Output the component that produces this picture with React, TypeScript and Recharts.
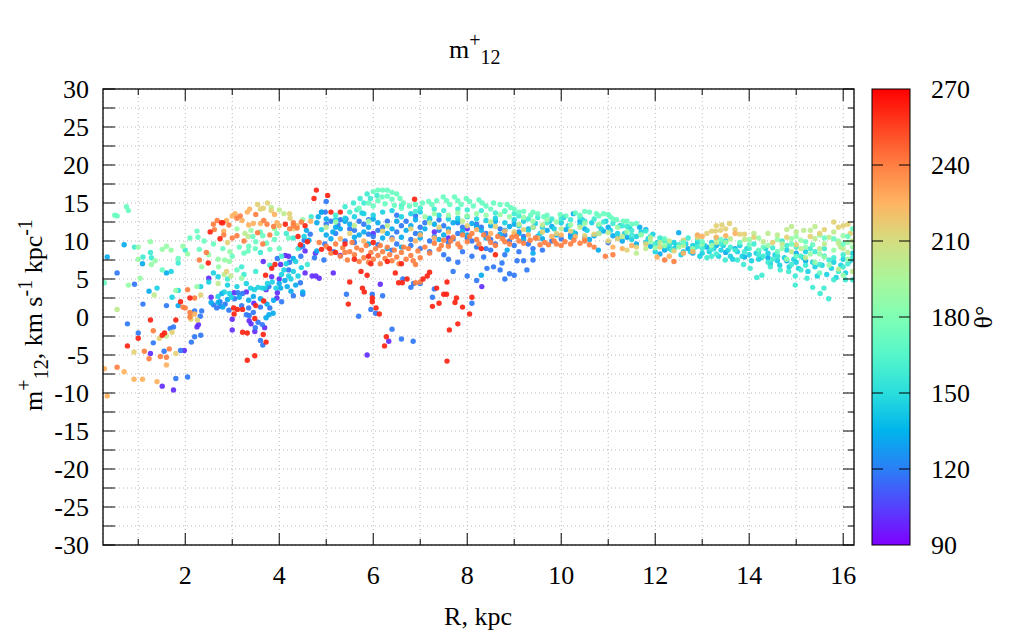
import React from 'react'
import { ScatterChart, Scatter, XAxis, YAxis, CartesianGrid } from 'recharts'

// gnuplot "rainbow" palette (rgbformulae 33,13,10), theta 90..270
const rainbow = (theta: number) => {
  const t = Math.min(1, Math.max(0, (theta - 90) / 180))
  const r = Math.min(1, Math.abs(2 * t - 0.5))
  const g = Math.sin(Math.PI * t)
  const b = Math.cos((Math.PI * t) / 2)
  const h = (v: number) => Math.round(Math.max(0, Math.min(1, v)) * 255).toString(16).padStart(2, '0')
  return '#' + h(r) + h(g) + h(b)
}

const xTicks = [1, 2, 3, 4, 5, 6, 7, 8, 9, 10, 11, 12, 13, 14, 15, 16]
const yTicks = [-30, -27.5, -25, -22.5, -20, -17.5, -15, -12.5, -10, -7.5, -5, -2.5, 0, 2.5, 5, 7.5, 10, 12.5, 15, 17.5, 20, 22.5, 25, 27.5, 30]
const cbTicks = [90, 120, 150, 180, 210, 240, 270]

// [R kpc, m+12] points grouped by theta colour band
const red: [number, number][] = [
  [0.77, -3.8], [1.0, -2.8], [1.26, -0.4], [1.51, -2.4], [1.56, -2.1], [1.8, -0.4], [1.9, 2.0], [2.1, 2.5], [2.49, 7.1], [2.53, 11.2],
  [2.74, 10.3], [2.77, 12.4], [2.8, 12.4], [3.03, 1.2], [3.11, 1.0], [3.22, 1.0], [3.5, 1.5], [3.67, 2.1], [3.04, 0.4], [3.48, -0.2],
  [3.22, -2.0], [3.32, -2.1], [3.66, -2.3], [3.32, -5.7], [3.48, -5.1], [3.72, -3.3], [3.84, 6.4], [3.91, 6.9], [3.71, 5.5], [4.13, 12.2],
  [4.55, 12.0], [4.45, 9.5], [4.6, 9.9], [4.79, 16.7], [4.74, 15.6], [5.03, 16.0], [5.1, 13.8], [5.3, 13.8], [5.07, 9.0], [6.88, 15.5],
  [5.5, 4.6], [5.77, 3.8], [5.81, 3.3], [5.47, 1.7], [5.98, 2.5], [5.98, 2.0], [6.06, 1.2], [6.13, 0.4], [6.28, -2.6], [6.24, -3.8],
  [7.57, -5.8], [7.62, -1.7], [7.8, -0.9], [7.9, 1.3], [8.05, 0.4], [8.1, 2.6], [7.26, 1.4], [7.4, 1.8], [7.5, 3.0], [7.56, 3.0],
  [7.77, 2.5], [7.74, 1.9], [7.35, 3.8], [7.15, 5.4], [7.06, 5.0], [7.2, 5.9], [6.54, 4.5], [6.62, 4.5], [6.72, 5.0], [7.57, 4.6],
  [6.47, 5.8], [5.87, 5.5], [5.74, 6.0], [5.2, 8.5], [5.6, 7.6], [5.9, 8.0], [6.3, 7.3], [6.6, 7.0], [5.4, 9.6], [6.0, 9.8],
  [8.3, 9.0], [8.6, 8.2], [5.95, 7.0], [4.4, 10.6], [4.9, 8.9],
]
const orange: [number, number][] = [
  [0.55, -6.6], [1.13, -4.5], [1.32, -1.8], [1.23, -5.5], [1.47, -5.2], [1.66, -4.2], [1.6, -5.3], [1.95, 1.3], [2.0, 1.2], [2.1, 0.6],
  [2.1, 0.0], [2.2, 2.5], [2.3, 7.5], [2.05, 3.6], [2.45, 8.5], [2.6, 12.2], [2.68, 12.7], [2.93, 12.1], [3.1, 13.0], [3.17, 13.3],
  [3.5, 13.5], [3.67, 12.7], [3.74, 12.2], [3.88, 11.9], [4.22, 11.6], [4.3, 12.0], [4.47, 12.5], [2.82, 10.8], [3.1, 10.7], [3.0, 10.4],
  [3.25, 10.0], [3.54, 11.1], [3.8, 10.8], [3.65, 9.6], [2.62, 11.5], [4.3, 12.4], [4.38, 11.7],
  [4.85, 9.8], [5.0, 9.3], [5.1, 8.4], [5.2, 9.6], [5.3, 8.0], [5.35, 9.1], [5.45, 7.5], [5.5, 8.6], [5.55, 9.8], [5.6, 8.2],
  [5.7, 7.3], [5.75, 8.8], [5.8, 7.8], [5.85, 9.4], [5.9, 7.2], [5.95, 8.5], [6.0, 7.6], [6.05, 9.0], [6.1, 8.1], [6.15, 7.0],
  [6.2, 8.6], [6.25, 7.7], [6.3, 9.2], [6.35, 8.2], [6.4, 7.4], [6.45, 8.8], [6.5, 7.9], [6.55, 7.0], [6.6, 8.5], [6.7, 7.6],
  [6.75, 9.0], [6.8, 8.1], [6.9, 6.9], [6.95, 8.7], [7.0, 7.8], [7.1, 9.2], [7.2, 8.4], [7.3, 9.7], [7.4, 8.9], [7.5, 10.1],
  [7.6, 9.3], [7.7, 10.5], [7.8, 9.6], [7.9, 10.8], [8.0, 9.9], [8.1, 11.0], [8.2, 10.2], [8.35, 10.8], [8.5, 9.8], [8.65, 10.6],
  [8.8, 9.9], [8.95, 10.5], [9.1, 10.0], [9.34, 10.1], [9.55, 9.5], [9.73, 9.5], [9.9, 9.6], [10.08, 9.9], [10.27, 10.1], [10.4, 9.7],
  [10.6, 9.5], [10.94, 8.0], [11.1, 8.2], [12.2, 7.5], [12.4, 7.3], [6.9, 4.5], [7.0, 4.6],
  [7.45, 9.4], [7.65, 10.0], [7.85, 9.2], [8.05, 10.6], [8.25, 9.6], [8.45, 10.4], [8.6, 9.4], [8.75, 10.3], [8.9, 9.6], [9.05, 10.6],
  [9.2, 9.7], [9.45, 10.4], [9.65, 9.8], [9.85, 10.0], [10.0, 9.4], [10.2, 9.6], [10.5, 10.0], [10.7, 9.2], [5.65, 9.1], [6.15, 9.4],
  [6.65, 9.2], [5.4, 8.5], [6.85, 7.4],
]
const lightOrange: [number, number][] = [
  [0.7, -7.2], [0.91, -8.2], [1.09, -8.2], [0.34, -10.4], [1.4, -8.5], [1.6, -6.3], [2.2, 0.4], [0.28, -6.8],
  [2.88, 12.7], [3.0, 13.3], [3.06, 13.6], [3.21, 12.7], [3.32, 13.8], [3.37, 14.2], [3.9, 13.5], [3.35, 12.1], [3.45, 12.3], [3.95, 12.4],
  [4.0, 12.0], [4.38, 12.0], [4.67, 12.6], [2.82, 11.3], [3.6, 12.3],
  [5.3, 10.3], [5.8, 10.0], [6.4, 10.2], [7.0, 10.8], [7.6, 11.2], [8.2, 11.5], [8.8, 11.3], [9.3, 10.8], [9.8, 10.6], [10.3, 10.6],
  [11.1, 9.2], [11.5, 9.4], [12.04, 7.9], [12.3, 8.0], [12.6, 8.4], [13.0, 10.6], [13.3, 10.5],
  [8.5, 11.0], [9.0, 10.9], [9.5, 10.4], [10.0, 10.8], [10.5, 10.2], [11.3, 9.0], [12.8, 8.6], [12.9, 10.8], [13.5, 10.7], [13.7, 11.0],
  [6.9, 10.0], [7.3, 10.4],
]
const yellow: [number, number][] = [
  [0.91, -4.6], [1.45, -2.8], [1.72, -2.0], [1.8, -4.8], [2.12, -0.3], [2.26, -0.4], [2.33, 2.9], [2.88, 6.0], [2.9, 9.8], [3.54, 14.8],
  [3.6, 14.2], [3.66, 14.3], [3.75, 15.0], [3.83, 14.0], [4.22, 13.6], [4.23, 13.0], [4.3, 11.6],
  [5.5, 11.0], [6.2, 11.3], [6.8, 11.6], [7.4, 11.8], [8.0, 12.0], [8.6, 11.9], [9.2, 11.5], [9.6, 11.2], [10.2, 11.3], [10.7, 10.9],
  [11.2, 10.3], [11.4, 8.8], [11.8, 9.6], [12.1, 9.2], [12.6, 10.1], [13.1, 11.0], [13.2, 11.3], [13.28, 11.3], [13.39, 11.4], [13.42, 12.1],
  [13.58, 12.3], [13.8, 10.9], [13.9, 10.9], [15.6, 11.5], [15.8, 12.5], [16.0, 12.0], [15.3, 10.6], [14.5, 9.8], [15.0, 9.5], [16.15, 11.0],
  [9.0, 11.2], [9.9, 11.0], [10.5, 10.7], [11.0, 10.0], [11.6, 9.2], [12.4, 8.7], [12.9, 10.5], [13.5, 11.6], [13.7, 11.5], [14.1, 10.5],
  [14.8, 10.5], [15.5, 11.0], [15.9, 11.8], [16.1, 12.2], [13.3, 12.0],
]
const yellowGreen: [number, number][] = [
  [0.55, 1.0], [1.34, 2.9], [1.6, -2.5], [2.12, 0.2], [2.7, 4.4], [2.83, 5.6], [2.97, 5.4], [3.83, 14.4], [4.0, 14.1], [4.1, 13.6],
  [3.27, 11.0], [3.34, 10.6],
  [5.0, 11.8], [5.6, 12.0], [6.3, 12.0], [7.2, 12.4], [7.9, 12.6], [8.5, 12.5], [9.1, 12.2], [9.6, 12.1], [10.4, 11.8], [11.0, 11.1],
  [11.6, 8.4], [11.9, 10.4], [12.3, 10.0], [13.6, 10.3], [14.3, 9.9], [14.6, 10.8], [14.8, 11.5], [15.0, 11.2], [15.16, 11.4], [15.3, 11.4],
  [15.4, 10.3], [15.5, 9.0], [15.7, 10.5], [15.9, 9.7], [15.94, 9.2], [16.1, 8.5], [16.2, 10.0], [15.2, 7.8], [14.9, 8.6], [14.4, 11.0],
  [16.2, 6.0], [15.9, 6.3],
  [9.4, 11.8], [10.0, 11.6], [10.8, 11.0], [11.3, 10.6], [11.8, 9.0], [12.1, 9.8], [12.6, 9.4], [13.3, 9.8], [13.9, 10.2], [14.1, 11.0],
  [14.7, 9.6], [15.1, 9.0], [15.6, 9.6], [15.8, 11.2], [16.0, 9.0], [15.4, 11.9], [14.9, 11.9],
]
const lightGreen: [number, number][] = [
  [0.79, 4.2], [1.04, 5.1], [1.0, 9.2], [1.0, 7.6], [1.26, 9.9], [1.28, 6.9], [1.36, 7.4], [1.51, 8.9], [1.6, 9.3], [1.8, 3.5],
  [2.25, 4.0], [1.7, 8.8], [1.95, 9.3], [2.05, 8.3], [2.7, 7.6], [2.84, 7.5], [2.94, 7.3], [2.71, 6.6], [3.2, 5.1],
  [4.5, 12.8], [5.2, 12.5], [5.9, 12.6], [7.1, 13.2], [7.6, 13.4], [8.2, 13.6], [8.7, 13.5], [9.2, 13.1], [9.7, 12.8], [10.5, 12.3],
  [11.2, 11.8], [11.7, 10.8], [12.0, 9.1], [12.5, 9.2], [13.0, 9.6], [13.5, 9.8], [14.0, 10.2], [14.4, 9.4], [14.7, 9.0], [14.9, 10.3],
  [15.1, 10.1], [15.3, 8.3], [15.5, 10.8], [15.6, 7.9], [15.8, 8.8], [16.0, 10.7], [16.1, 7.6], [16.2, 9.2], [15.4, 7.2], [14.8, 7.6],
  [15.7, 6.8], [16.0, 5.5],
  [7.3, 13.6], [7.8, 13.7], [8.0, 13.3], [8.4, 13.4], [8.9, 13.2], [9.4, 12.6], [9.9, 12.5], [10.2, 12.1], [10.8, 12.2], [11.4, 11.2],
  [11.9, 9.9], [12.2, 9.4], [12.8, 9.0], [13.2, 9.4], [14.2, 10.4], [14.6, 10.2], [15.0, 10.6], [15.2, 9.2], [15.5, 8.3], [15.9, 10.0],
  [16.1, 9.8], [3.1, 11.6], [3.4, 11.4], [3.9, 11.6], [2.5, 8.2], [2.95, 8.6], [2.35, 6.6],
]
const mint: [number, number][] = [
  [0.28, 4.5], [0.5, 13.4], [0.55, 13.3], [0.75, 14.5], [0.79, 14.0], [1.51, 6.2], [1.85, 7.7], [2.27, 10.5], [2.3, 8.9], [2.25, 11.3],
  [3.35, 9.3], [3.34, 8.7], [3.44, 10.6], [3.5, 9.9], [3.49, 9.0], [3.73, 9.7], [3.65, 10.7], [3.8, 8.9], [3.9, 10.2], [4.0, 9.0],
  [3.1, 6.2], [3.15, 9.2], [2.6, 9.6],
  [6.0, 16.5], [6.1, 16.7], [6.2, 16.7], [6.3, 16.7], [6.4, 16.4], [6.5, 16.2], [6.57, 15.6], [6.19, 15.8], [6.3, 15.9], [6.64, 15.0],
  [6.77, 14.6], [6.9, 14.8], [7.05, 15.0], [7.18, 15.2], [7.25, 14.8], [7.35, 15.3], [7.49, 15.8], [7.56, 15.3], [7.63, 14.8], [7.73, 15.8],
  [7.8, 15.3], [7.87, 14.8], [7.98, 15.6], [8.05, 15.2], [8.13, 14.6], [8.25, 15.4], [8.32, 15.0], [8.4, 14.6], [8.56, 15.0], [8.7, 14.8],
  [8.85, 14.8], [8.92, 14.4], [9.0, 14.2], [9.35, 13.4], [9.63, 13.2], [9.98, 13.5], [10.6, 13.8], [10.75, 13.6], [10.9, 13.6], [11.04, 13.2],
  [11.18, 12.8], [11.32, 12.6], [9.2, 13.9], [9.5, 13.6], [10.3, 13.7],
  [14.6, 8.6], [15.0, 8.0], [15.35, 9.5], [15.8, 10.3], [16.2, 11.6], [16.1, 10.6], [14.2, 8.8], [15.5, 5.8],
  [8.5, 14.2], [8.8, 14.0], [9.1, 13.8], [9.4, 13.8], [9.7, 13.4], [10.1, 13.3], [10.4, 13.4], [10.5, 13.9], [10.8, 13.3], [11.0, 13.5],
  [11.1, 12.9], [11.4, 12.6], [11.5, 12.2], [11.6, 12.3], [12.2, 10.3], [12.6, 9.8], [13.0, 9.9], [13.4, 10.2], [13.8, 9.8], [14.0, 9.5],
  [14.3, 9.2], [14.9, 9.6], [15.2, 9.9], [15.6, 10.4], [16.0, 9.6], [5.9, 15.0], [6.1, 15.3], [6.4, 15.5], [6.6, 14.3], [5.7, 14.3],
  [6.0, 14.6], [6.25, 14.9], [6.45, 14.7], [3.0, 8.0], [3.25, 8.4], [3.6, 11.2], [3.95, 11.0], [4.2, 10.4], [2.8, 9.0], [2.4, 10.0],
  [2.1, 10.4],
]
const turquoise: [number, number][] = [
  [0.92, 9.2], [1.1, 7.9], [1.26, 8.5], [1.28, 7.8], [1.85, 7.1], [2.0, 8.8], [3.6, 8.5], [3.2, 6.6], [4.6, 6.9], [4.68, 13.2],
  [5.58, 15.0], [5.72, 15.6], [5.87, 16.2], [5.65, 14.1], [5.8, 15.0], [5.94, 15.6], [6.08, 16.0], [5.4, 14.5], [5.5, 13.8],
  [6.9, 13.9], [7.3, 14.2], [7.8, 14.2], [8.3, 14.0], [8.8, 13.9], [9.3, 12.9], [9.8, 12.9], [10.2, 12.8], [10.7, 12.9], [11.1, 12.3],
  [11.5, 11.4], [11.9, 10.6], [12.2, 10.0], [12.5, 9.5], [12.8, 8.8], [13.0, 9.0], [13.3, 8.3], [13.6, 9.2], [13.9, 8.6], [14.1, 9.6],
  [14.3, 8.0], [14.5, 9.1], [14.66, 6.2], [14.84, 6.0], [14.98, 5.4], [14.98, 4.2], [15.23, 5.1], [15.35, 3.9], [15.59, 3.8], [15.51, 3.1],
  [15.69, 2.4], [15.8, 4.9], [16.05, 4.9], [16.2, 4.9], [15.2, 6.8], [15.4, 8.6], [15.7, 7.5], [16.0, 8.2], [15.9, 6.0], [14.4, 7.2],
  [14.02, 6.4], [13.49, 7.5], [13.88, 6.9], [14.45, 6.6], [14.16, 5.2], [14.27, 5.5], [15.0, 9.2], [14.7, 10.0], [13.3, 10.4], [12.7, 10.4],
  [12.35, 8.8], [13.1, 7.8], [13.75, 7.5], [15.1, 6.2], [15.6, 9.0], [16.1, 7.0],
  [9.1, 13.3], [9.5, 13.1], [9.7, 12.4], [10.0, 12.9], [10.4, 13.1], [10.5, 12.6], [10.9, 12.5], [11.3, 12.0], [11.4, 11.9], [11.7, 10.9],
  [11.8, 11.3], [12.1, 10.4], [12.3, 9.6], [12.6, 9.9], [12.9, 9.3], [13.2, 8.9], [13.4, 9.6], [13.7, 8.8], [14.0, 9.0], [14.2, 8.2],
  [14.6, 8.0], [14.8, 9.4], [15.1, 8.0], [15.3, 9.0], [15.5, 6.9], [15.8, 7.8], [16.0, 6.6], [16.2, 7.8], [14.9, 6.9], [14.5, 7.6],
  [13.2, 8.0], [12.9, 10.2], [11.5, 10.8], [12.0, 9.6], [6.6, 14.6], [7.0, 14.3], [7.5, 14.0], [8.0, 14.1], [8.6, 13.7], [9.0, 13.6],
  [5.2, 13.4], [2.9, 5.0], [3.25, 5.6], [3.5, 6.0], [3.8, 6.8], [4.05, 8.0], [4.4, 9.0], [4.3, 10.4], [4.15, 11.0],
]
const cyan: [number, number][] = [
  [1.4, 3.8], [1.72, 2.6], [1.85, 3.5], [1.7, 6.0], [2.33, 4.0], [2.6, 5.8], [2.7, 5.3], [2.7, 2.7], [2.83, 3.3], [2.94, 3.1],
  [2.98, 2.6], [3.39, 3.8], [3.47, 3.6], [3.55, 3.9], [3.64, 3.8], [3.7, 3.8], [3.93, 3.8], [4.2, 5.4], [4.25, 5.0], [4.53, 10.6],
  [4.47, 6.5], [4.9, 11.5], [5.76, 13.7], [4.35, 7.3], [4.1, 6.2], [3.85, 4.6],
  [5.2, 12.8], [5.6, 13.2], [6.0, 13.4], [6.4, 14.0], [6.8, 13.6], [7.2, 13.0], [7.6, 12.9], [8.0, 13.2], [8.4, 12.7], [8.8, 12.4],
  [9.2, 12.6], [9.6, 11.8], [10.0, 12.4], [10.4, 12.2], [10.8, 12.0], [11.2, 11.0], [11.5, 10.2], [11.8, 9.8], [12.0, 8.6], [12.2, 9.2],
  [12.4, 9.8], [12.6, 8.6], [12.8, 9.4], [13.0, 8.4], [13.2, 9.8], [13.4, 8.8], [13.6, 8.0], [13.8, 9.4], [14.0, 8.2], [14.2, 7.6],
  [14.4, 8.4], [14.6, 7.4], [14.8, 8.8], [15.0, 7.2], [15.2, 8.6], [15.4, 6.6], [15.6, 8.0], [15.8, 7.2], [16.0, 7.6], [16.2, 8.4],
  [12.4, 9.0], [13.5, 10.0], [12.9, 9.8],
  [9.1, 12.0], [9.3, 11.4], [9.45, 12.3], [9.55, 11.0], [9.75, 12.6], [9.85, 11.6], [10.15, 12.0], [10.25, 11.2], [10.45, 12.8], [10.55, 11.4],
  [10.65, 12.4], [10.85, 11.6], [10.95, 12.6], [11.05, 11.4], [11.25, 12.0], [11.35, 11.0], [11.45, 11.8], [11.6, 10.6], [11.7, 11.2], [11.85, 10.3],
  [11.95, 10.9], [12.05, 9.8], [12.15, 10.2], [12.3, 9.0], [12.45, 9.4], [12.55, 8.2], [12.65, 9.6], [12.75, 8.6], [12.85, 9.2], [12.95, 8.0],
  [13.05, 9.4], [13.15, 8.6], [13.25, 9.0], [13.35, 8.0], [13.45, 9.4], [13.55, 8.8], [13.65, 7.6], [13.75, 8.6], [13.85, 8.0], [13.95, 9.0],
  [14.05, 7.4], [14.15, 8.4], [14.25, 7.8], [14.35, 9.0], [14.45, 7.0], [14.55, 8.2], [14.65, 6.8], [14.75, 7.8], [14.85, 6.6], [14.95, 7.6],
  [15.05, 6.4], [15.15, 7.8], [15.25, 6.0], [15.35, 7.2], [15.45, 5.4], [15.55, 6.8], [15.65, 5.6], [15.75, 6.4], [15.85, 5.2], [15.95, 6.8],
  [16.05, 5.8], [16.15, 7.4], [5.4, 13.0], [5.8, 13.6], [6.2, 13.8], [6.6, 13.2], [7.0, 13.8], [7.4, 13.4], [7.8, 13.0], [8.2, 12.9],
  [8.6, 13.0], [9.0, 12.8], [2.5, 4.6], [2.9, 4.2], [3.1, 4.0], [3.3, 4.4], [3.75, 4.4], [4.05, 5.6], [4.3, 6.0], [4.4, 5.4],
  [4.15, 7.0],
]
const sky: [number, number][] = [
  [0.34, 7.9], [0.7, 9.5], [1.09, 7.0], [1.23, 3.4], [1.6, 5.8], [1.85, 1.5], [2.55, 1.9], [2.7, 1.9], [2.78, 3.1], [2.8, 1.3],
  [3.35, 2.2], [3.74, 1.7], [3.88, 2.2], [3.72, -0.1], [3.78, 0.3], [3.87, 0.5], [4.03, 3.8], [4.12, 4.8], [4.17, 4.0], [4.3, 7.7],
  [4.5, 3.3], [4.35, 4.2], [4.58, 11.4], [4.63, 10.1], [4.83, 13.2], [4.9, 13.8], [5.0, 12.9], [5.14, 11.2], [4.8, 8.7],
  [5.1, 10.3], [5.3, 11.6], [5.5, 12.2], [5.7, 10.8], [5.9, 11.8], [6.1, 12.4], [6.3, 11.0], [6.5, 12.6], [6.7, 11.4], [6.9, 12.8],
  [7.1, 11.6], [7.3, 12.2], [7.5, 10.8], [7.7, 12.4], [7.9, 11.3], [8.1, 12.3], [8.3, 11.4], [8.5, 12.0], [8.7, 10.9], [8.9, 11.9],
  [9.1, 11.0], [9.3, 11.6], [9.5, 10.6], [9.7, 11.4], [9.9, 10.8], [10.05, 13.1], [10.26, 13.6], [10.1, 11.5], [10.3, 11.0], [10.5, 11.6],
  [10.79, 8.8], [10.7, 10.7], [10.9, 11.3], [11.1, 10.7], [11.3, 10.0], [11.67, 11.8], [11.8, 11.5], [11.6, 9.6], [11.9, 9.3], [12.1, 8.3],
  [12.3, 9.5], [12.7, 9.0], [13.1, 9.2], [13.5, 8.5], [13.9, 7.9], [14.2, 8.7], [14.6, 8.0], [15.0, 8.4], [8.85, 8.8], [8.3, 5.5],
  [9.4, 8.4], [6.6, 9.2], [7.0, 10.4], [5.9, 9.6], [6.3, 9.0], [12.9, 10.7], [12.5, 11.1],
  [5.2, 11.8], [5.4, 12.6], [5.6, 10.5], [5.8, 11.2], [6.0, 12.9], [6.2, 10.4], [6.4, 11.6], [6.6, 10.5], [6.8, 12.0], [7.0, 11.0],
  [7.2, 12.8], [7.4, 10.2], [7.6, 11.6], [7.8, 12.6], [8.0, 10.8], [8.2, 11.8], [8.4, 10.4], [8.6, 12.6], [8.8, 11.4], [9.0, 12.2],
  [9.2, 10.2], [9.4, 11.8], [9.6, 10.3], [9.8, 11.9], [10.2, 10.5], [10.4, 12.6], [10.6, 10.2], [10.8, 11.0], [11.0, 11.8], [11.2, 10.4],
  [11.4, 10.5], [12.2, 8.8], [12.6, 10.0], [12.8, 8.4], [13.3, 9.4], [13.7, 9.0], [14.4, 7.8], [14.8, 7.4], [15.2, 7.4], [5.0, 10.8],
  [4.8, 12.4], [2.9, 2.3], [3.15, 2.6], [3.45, 2.7], [3.6, 2.4], [4.0, 4.4], [4.25, 3.4],
]
const blue: [number, number][] = [
  [0.55, 5.8], [0.77, -0.9], [0.92, 4.3], [1.0, -2.1], [1.32, -3.4], [1.1, 1.7], [1.6, 1.5], [1.55, -4.5], [1.68, -1.5], [1.75, -1.3],
  [1.8, -8.1], [1.9, -4.4], [2.05, -7.9], [2.2, 0.8], [2.2, -2.6], [2.13, -3.3], [2.33, -2.4], [2.32, 0.1], [2.35, 0.8], [2.6, 1.6],
  [2.67, 1.2], [2.75, 1.4], [2.74, 2.0], [2.93, 0.9], [3.05, 2.4], [3.12, 3.2], [3.22, 3.1], [3.2, 1.5], [3.6, 1.3], [3.8, 1.2],
  [3.3, 0.3], [3.36, 0.2], [3.49, -1.4], [3.55, -0.7], [3.64, -1.0], [3.6, -3.1], [3.65, -3.7], [3.78, 4.0], [3.96, 7.7], [4.22, 7.2],
  [4.3, 2.8], [4.45, 4.5], [4.5, 9.3], [4.98, 13.8], [5.0, 15.2], [5.0, 12.2], [5.25, 12.1], [5.42, 12.9], [4.97, 9.6], [4.75, 7.8],
  [4.46, 8.0], [4.43, 9.1], [4.9, 13.8], [4.66, 10.9], [4.53, 10.1], [4.95, 7.5], [5.16, 8.6], [5.43, 3.0], [5.69, 0.1], [5.98, 3.0],
  [5.95, 1.0], [6.05, 0.5], [6.2, 2.8], [6.4, -1.6], [6.6, -2.9], [6.85, -3.2], [8.1, 1.8], [7.26, 2.6], [7.3, 3.7], [6.8, 3.9],
  [6.86, 4.4], [7.0, 4.4], [6.63, 5.0], [4.5, 3.0],
  [5.2, 11.0], [5.4, 10.0], [5.6, 11.4], [5.8, 12.2], [6.0, 10.6], [6.2, 11.8], [6.4, 10.4], [6.6, 12.0], [6.8, 10.2], [7.0, 11.8],
  [7.2, 10.0], [7.4, 11.4], [7.6, 9.8], [7.8, 11.0], [8.0, 10.4], [8.2, 9.2], [8.4, 11.0], [8.6, 9.6], [8.8, 10.8], [9.0, 9.4],
  [9.2, 10.6], [9.4, 9.0], [7.0, 9.0], [7.5, 8.2], [7.9, 8.6], [8.35, 7.9], [8.42, 6.4], [8.56, 6.6], [8.7, 6.2], [8.8, 5.0],
  [8.9, 5.7], [9.0, 5.5], [9.06, 7.4], [9.2, 7.4], [9.27, 6.2], [9.4, 7.5], [8.74, 7.1], [6.1, 9.5], [6.5, 9.6], [5.6, 9.8],
  [7.8, 7.2], [8.0, 5.4], [8.2, 4.8], [7.7, 6.0], [8.5, 8.8], [5.3, 12.8], [6.9, 13.3], [8.2, 12.2], [10.0, 10.3], [10.5, 10.4],
  [11.0, 9.8],
  [5.1, 12.6], [5.5, 11.6], [5.7, 12.6], [5.9, 10.9], [6.1, 11.4], [6.3, 12.6], [6.5, 11.2], [6.7, 12.6], [6.9, 11.0], [7.1, 12.4],
  [7.3, 10.6], [7.5, 12.0], [7.7, 10.3], [7.9, 11.8], [8.1, 10.0], [8.3, 11.8], [8.5, 10.2], [8.7, 11.6], [8.9, 10.0], [9.1, 11.2],
  [9.3, 9.6], [9.5, 10.4], [9.6, 8.8], [7.2, 8.6], [7.6, 7.6], [8.1, 8.0], [8.4, 9.0], [8.8, 8.2], [9.1, 8.6], [6.8, 9.4],
  [6.4, 8.8], [9.8, 10.0], [10.2, 10.8], [5.9, 12.8], [6.5, 13.4], [7.4, 12.8], [7.8, 12.4], [2.85, 1.7], [3.35, 1.2], [3.45, 0.6],
  [4.05, 2.0], [4.2, 6.2],
]
const violet: [number, number][] = [
  [1.26, -4.8], [1.51, -9.1], [1.75, -9.6], [1.98, -4.4], [2.25, -1.3], [2.28, -1.0], [2.5, 5.1], [2.55, 2.6], [3.04, 3.2], [3.3, 3.3],
  [3.72, 3.6], [3.84, 5.3], [3.96, 3.2], [3.95, 2.5], [3.46, 1.8], [3.0, -0.3], [3.36, -0.5], [3.4, -0.9], [3.69, -1.4], [3.0, -1.7],
  [3.48, -1.9], [4.13, 8.1], [4.2, 8.0], [4.03, 6.9], [3.66, 7.3], [4.0, 5.0], [4.55, 5.8], [4.7, 5.4], [4.78, 5.4], [4.55, 8.7],
  [4.77, 8.4], [5.3, 8.1], [5.15, 5.8], [4.85, 5.1], [5.87, -5.0], [6.15, 4.3], [6.33, -3.2], [8.31, 4.0], [6.0, 11.0], [7.3, 11.2],
  [8.0, 11.6], [7.6, 10.4],
]

const bands = [
  { theta: 100, pts: violet },
  { theta: 118, pts: blue },
  { theta: 132, pts: sky },
  { theta: 145, pts: cyan },
  { theta: 158, pts: turquoise },
  { theta: 188, pts: lightGreen },
  { theta: 202, pts: yellowGreen },
  { theta: 215, pts: yellow },
  { theta: 226, pts: lightOrange },
  { theta: 172, pts: mint },
  { theta: 240, pts: orange },
  { theta: 262, pts: red },
]

const W = 1008
const H = 624
const P = { left: 95, top: 81, right: 846, bottom: 537 }
const CB = { left: 864, right: 902 }
const FONT = '"Liberation Serif", "Times New Roman", serif'
const FS = 26

const XTick = (props: any) => {
  const { x, payload } = props
  const v = payload.value
  const major = v % 2 === 0
  const len = major ? 12 : 6
  return (
    <g>
      <line x1={x} y1={P.bottom} x2={x} y2={P.bottom - len} stroke="#000" />
      <line x1={x} y1={P.top} x2={x} y2={P.top + len} stroke="#000" />
      {major && (
        <text x={x} y={P.bottom + 39} textAnchor="middle" fontFamily={FONT} fontSize={FS} fill="#000">{v}</text>
      )}
    </g>
  )
}

const YTick = (props: any) => {
  const { y, payload } = props
  const v = payload.value
  const major = v % 5 === 0
  return (
    <g>
      <line x1={P.left} y1={y} x2={P.left + 12} y2={y} stroke="#000" />
      <line x1={P.right} y1={y} x2={P.right - (major ? 11 : 6)} y2={y} stroke="#000" />
      {major && (
        <text x={P.left - 14} y={y + 9} textAnchor="end" fontFamily={FONT} fontSize={FS} fill="#000">{v}</text>
      )}
    </g>
  )
}

const cbY = (t: number) => P.bottom - ((t - 90) / 180) * (P.bottom - P.top)

export default function App() {
  const stops = [90, 105, 120, 135, 150, 165, 180, 195, 210, 225, 240, 255, 270]
  return (
    <div style={{ position: 'relative', width: W, height: H, background: '#fff' }}>
      <ScatterChart width={W} height={H} margin={{ top: P.top, right: W - P.right, bottom: H - P.bottom - 1, left: P.left - 1 }}>
        <CartesianGrid stroke="#b8b8b8" strokeDasharray="1 3" />
        <XAxis type="number" dataKey="x" domain={[0.25, 16.23]} ticks={xTicks} interval={0} allowDataOverflow
          axisLine={false} tickLine={false} tickSize={0} tickMargin={0} height={1} tick={XTick} />
        <YAxis type="number" dataKey="y" domain={[-30, 30]} ticks={yTicks} interval={0} allowDataOverflow
          axisLine={false} tickLine={false} tickSize={0} tickMargin={0} width={1} tick={YTick} />
        {bands.map((b, i) => {
          const c = rainbow(b.theta)
          return (
            <Scatter key={i} data={b.pts.map(([x, y]) => ({ x, y }))} fill={c} isAnimationActive={false}
              shape={(p: any) => <circle cx={p.cx} cy={p.cy} r={2.7} fill={c} fillOpacity={0.92} />} />
          )
        })}
      </ScatterChart>
      <svg width={W} height={H} style={{ position: 'absolute', left: 0, top: 0, pointerEvents: 'none' }}>
        <defs>
          <linearGradient id="cb" x1="0" y1="1" x2="0" y2="0">
            {stops.map(t => (
              <stop key={t} offset={(t - 90) / 180} stopColor={rainbow(t)} />
            ))}
          </linearGradient>
        </defs>
        <rect x={P.left} y={P.top} width={P.right - P.left} height={P.bottom - P.top} fill="none" stroke="#000" strokeWidth={1.3} />
        <rect x={CB.left} y={P.top} width={CB.right - CB.left} height={P.bottom - P.top} fill="url(#cb)" stroke="#000" strokeWidth={1} />
        {cbTicks.map(t => (
          <g key={t}>
            {t > 90 && t < 270 && (
              <>
                <line x1={CB.left} y1={cbY(t)} x2={CB.left + 11} y2={cbY(t)} stroke="#000" />
                <line x1={CB.right} y1={cbY(t)} x2={CB.right - 11} y2={cbY(t)} stroke="#000" />
              </>
            )}
            <text x={923} y={cbY(t) + 9} fontFamily={FONT} fontSize={FS} fill="#000">{t}</text>
          </g>
        ))}
        <text transform="translate(984,309) rotate(-90)" textAnchor="middle" fontFamily={FONT} fontSize={FS} fill="#000">θ°</text>
        <text x={441} y={50} fontFamily={FONT} fontSize={FS} fill="#000">
          m<tspan dy={-11} fontSize={20}>+</tspan><tspan dy={17} fontSize={20}>12</tspan>
        </text>
        <text x={470} y={617} textAnchor="middle" fontFamily={FONT} fontSize={FS} fill="#000">R, kpc</text>
        <text transform="translate(34,307) rotate(-90)" textAnchor="middle" fontFamily={FONT} fontSize={FS} fill="#000">
          m<tspan dy={-11} fontSize={20}>+</tspan><tspan dy={17} fontSize={20}>12</tspan>
          <tspan dy={-6} fontSize={FS}>, km s</tspan><tspan dy={-10} fontSize={20}>-1</tspan>
          <tspan dy={10} fontSize={FS}> kpc</tspan><tspan dy={-10} fontSize={20}>-1</tspan>
        </text>
      </svg>
    </div>
  )
}
